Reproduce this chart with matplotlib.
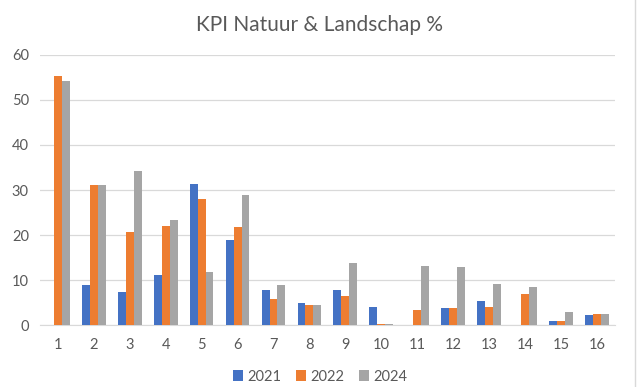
import numpy as np
import matplotlib.pyplot as plt

plt.rcParams['font.family'] = ['Lato', 'DejaVu Sans']

categories = [str(i) for i in range(1, 17)]
v2021 = [0, 8.8, 7.3, 11.1, 31.4, 19.0, 7.7, 4.9, 7.8, 4.0, 0, 3.9, 5.3, 0, 0.8, 2.2]
v2022 = [55.3, 31.2, 20.6, 22.1, 28.0, 21.8, 5.8, 4.4, 6.5, 0.3, 3.3, 3.9, 4.1, 6.8, 1.0, 2.5]
v2024 = [54.3, 31.2, 34.3, 23.3, 11.7, 28.9, 8.8, 4.4, 13.8, 0.3, 13.1, 13.0, 9.2, 8.4, 2.8, 2.5]

txt = '#595959'
fig = plt.figure(figsize=(6.4, 3.87), dpi=100)
ax = fig.add_axes([0.0625, 0.16, 0.898, 0.698])

x = np.arange(len(categories))
w = 0.22
ax.bar(x - w, v2021, w, color='#4472C4', label='2021', zorder=3)
ax.bar(x, v2022, w, color='#ED7D31', label='2022', zorder=3)
ax.bar(x + w, v2024, w, color='#A5A5A5', label='2024', zorder=3)

ax.set_xlim(-0.5, len(categories) - 0.5)
ax.set_ylim(0, 60)
ax.set_yticks(range(0, 61, 10))
ax.set_xticks(x)
ax.set_xticklabels(categories)
ax.grid(axis='y', color='#D9D9D9', linewidth=0.9, zorder=0)
for s in ['top', 'right', 'left']:
    ax.spines[s].set_visible(False)
ax.spines['bottom'].set_color('#D9D9D9')
ax.tick_params(length=0, colors=txt, labelsize=10.5)
ax.tick_params(axis='x', pad=9)
ax.tick_params(axis='y', pad=8)

fig.suptitle('KPI Natuur & Landschap %', y=0.96, fontsize=15, color=txt)
fig.legend(loc='lower center', ncol=3, frameon=False, fontsize=10.5,
           bbox_to_anchor=(0.5, -0.025), handlelength=0.7, handleheight=0.7,
           handletextpad=0.3, columnspacing=1.0, labelcolor=txt)

fig.add_artist(plt.Line2D([0.992, 0.992], [0, 1], color='#D9D9D9', linewidth=1,
                          transform=fig.transFigure))
plt.savefig('out.png')
